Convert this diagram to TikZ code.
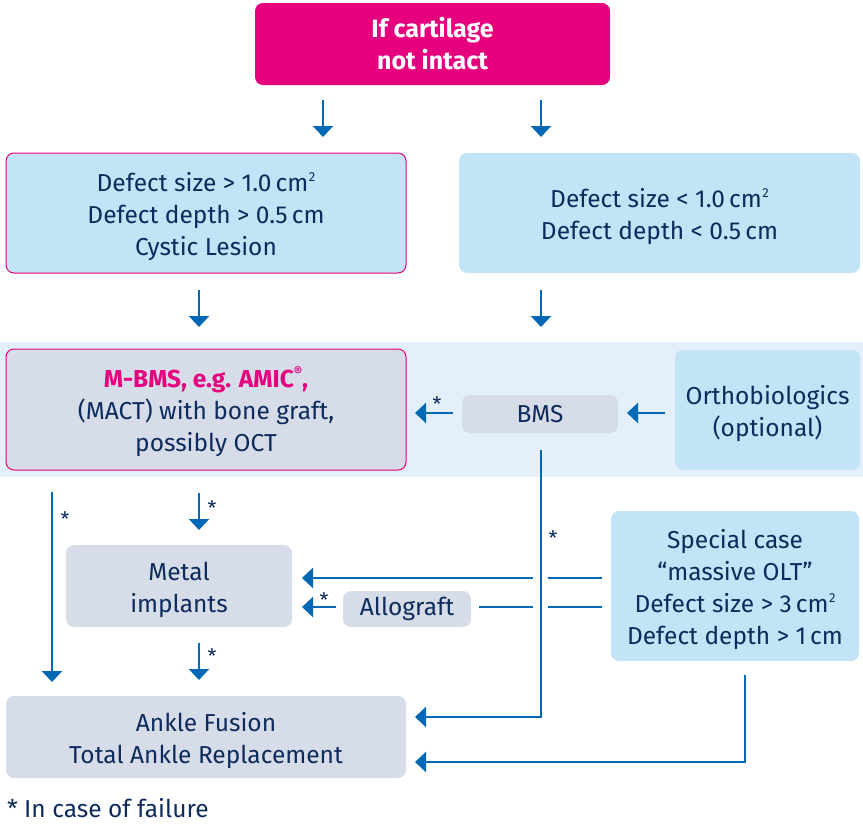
\documentclass[tikz,border=0pt]{standalone}
\usepackage{fontspec}
\setmainfont{Fira Sans}
\usetikzlibrary{arrows.meta,calc}
\definecolor{mag}{HTML}{E6007E}
\definecolor{lblue}{HTML}{C3E3F6}
\definecolor{gblue}{HTML}{D6DCE8}
\definecolor{band}{HTML}{E3EFFA}
\definecolor{navy}{HTML}{0D2B5C}
\definecolor{arrblue}{HTML}{0068B4}
\newcommand{\sqsup}{\kern0.5pt\raisebox{0.4em}{\fontsize{13}{13}\selectfont 2}}
\newcommand{\tx}[1]{\raisebox{-4pt}[\height][\depth]{\begin{tabular}{@{}c@{}}#1\end{tabular}}}
\begin{document}
\begin{tikzpicture}[x=1pt,y=-1pt,
  every node/.style={font=\fontsize{24.5}{32}\selectfont, text=navy, align=center, inner sep=0pt, outer sep=0pt},
  box/.style={rounded corners=8pt, draw=none},
  bluebox/.style={box, fill=lblue},
  graybox/.style={box, fill=gblue},
  magedge/.style={draw=mag, line width=1pt},
  arr/.style={draw=arrblue, line width=2.5pt, -{Triangle[width=20pt,length=11pt]}},
  ln/.style={draw=arrblue, line width=2.5pt},
  star/.style={font=\fontsize{20}{20}\selectfont}]
\useasboundingbox (0,0) rectangle (863,823);
\fill[band] (0,342) rectangle (863,477);

\node[box, fill=mag, minimum width=355pt, minimum height=82pt, text=white, font=\fontsize{25}{32}\selectfont\bfseries] (top) at (432.5,44) {If cartilage\\not intact};

\node[bluebox, magedge, minimum width=400pt, minimum height=120pt] (left1) at (206,213) {\tx{Defect size > 1.0\,cm\sqsup\\Defect depth > 0.5\,cm\\Cystic Lesion}};
\node[bluebox, minimum width=401pt, minimum height=120pt] (right1) at (659.5,213) {\tx{Defect size < 1.0\,cm\sqsup\\Defect depth < 0.5\,cm}};

\node[graybox, magedge, minimum width=400pt, minimum height=121pt] (mbms) at (206,409.5) {\tx{{\color{mag}\bfseries M-BMS, e.g. AMIC\raisebox{0.45em}{\fontsize{13}{13}\selectfont ®},}\\(MACT) with bone graft,\\possibly OCT}};
\node[graybox, minimum width=156pt, minimum height=38pt] (bms) at (540,414) {BMS};
\node[bluebox, minimum width=185pt, minimum height=120pt] (ortho) at (767.5,410) {\tx{Orthobiologics\\(optional)}};

\node[bluebox, minimum width=248pt, minimum height=150pt] (special) at (735,586) {\tx{Special case\\“massive OLT”\\Defect size > 3\,cm\sqsup\\Defect depth > 1\,cm}};
\node[graybox, minimum width=128pt, minimum height=36pt] (allo) at (407,609) {Allograft};
\node[graybox, minimum width=226pt, minimum height=82pt] (metal) at (179,586) {\tx{Metal\\implants}};
\node[graybox, minimum width=400pt, minimum height=82pt] (ankle) at (206,737) {\tx{Ankle Fusion\\Total Ankle Replacement}};

\node[anchor=base west] (foot) at (7,817) {* In case of failure};

% top arrows
\draw[arr] ($(top.south)+(-109.5,15)$) -- ++(0,37);
\draw[arr] ($(top.south)+(108.5,15)$) -- ++(0,37);
% second row arrows
\draw[arr] ($(left1.south)+(-7,17)$) -- ++(0,37);
\draw[arr] ($(right1.south)+(-118.5,17)$) -- ++(0,37);
% ortho -> bms
\draw[arr] ($(ortho.west)+(-10,3)$) -- ($(bms.east)+(9,-1)$);
% bms -> mbms
\draw[arr] ($(bms.west)+(-9,-1)$) -- ($(mbms.east)+(9,3.5)$);
\node[star] (s1) at (437,404) {*};
% bms -> ankle
\draw[arr] ($(bms.south)+(1,17)$) |- ($(ankle.east)+(9,-20)$);
\node[star] (s2) at (553,538) {*};
% special -> ankle
\draw[arr] ($(special.south)+(10,14)$) |- ($(ankle.east)+(9,25)$);
% special -> metal
\draw[ln] ($(special.west)+(-9,-8)$) -- ++(-54,0);
\draw[arr] ($(special.west)+(-78,-8)$) -- ($(metal.east)+(10,-8)$);
% special -> allograft
\draw[ln] ($(special.west)+(-9,21)$) -- ++(-54,0);
\draw[ln] ($(special.west)+(-78,21)$) -- ($(allo.east)+(8,-2)$);
% allograft -> metal
\draw[arr] ($(allo.west)+(-7,-2)$) -- ($(metal.east)+(10,21)$);
\node[star] (s3) at (324,600) {*};
% mbms -> metal
\draw[arr] ($(mbms.south)+(-7,23)$) -- ++(0,37);
\node[star] (s4) at (212,508) {*};
% metal -> ankle
\draw[arr] ($(metal.south)+(20,16)$) -- ++(0,37);
\node[star] (s5) at (212,656) {*};
% mbms -> ankle long
\draw[arr] ($(mbms.south)+(-154,22)$) -- ($(ankle.north)+(-154,-14)$);
\node[star] (s6) at (65,519) {*};
\end{tikzpicture}
\end{document}
